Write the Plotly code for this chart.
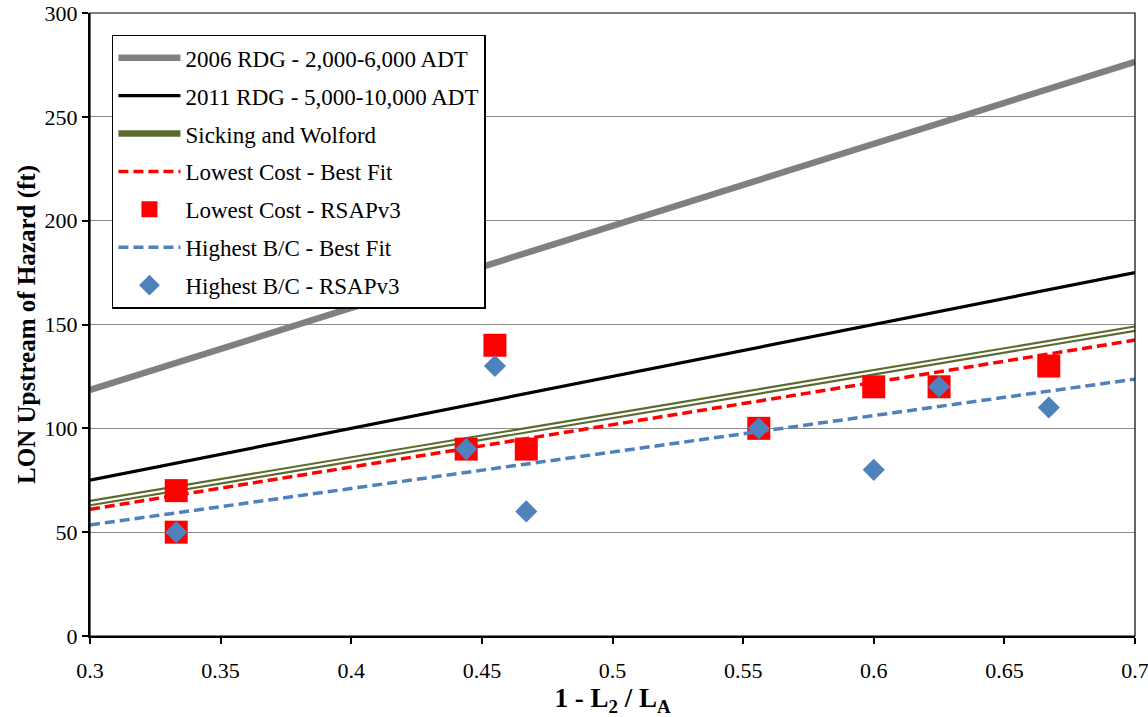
import plotly.graph_objects as go

# ---- data ----
x_line = [0.3, 0.7]
rdg2006_y = [118.5, 276.5]
rdg2011_y = [75, 175]
sicking_y = [64, 148]
lowcost_fit_y = [61, 142.5]
highbc_fit_y = [53.5, 123.7]

lowcost_x = [0.333, 0.333, 0.444, 0.455, 0.467, 0.556, 0.6, 0.625, 0.667]
lowcost_y = [70, 50, 90, 140, 90, 100, 120, 120, 130]

highbc_x = [0.333, 0.444, 0.455, 0.467, 0.556, 0.6, 0.625, 0.667]
highbc_y = [50, 90, 130, 60, 100, 80, 120, 110]

x_ticks = [0.3, 0.35, 0.4, 0.45, 0.5, 0.55, 0.6, 0.65, 0.7]
x_ticklabels = ["0.3", "0.35", "0.4", "0.45", "0.5", "0.55", "0.6", "0.65", "0.7"]
y_ticks = [0, 50, 100, 150, 200, 250, 300]

FONT = "Liberation Serif"

fig = go.Figure()

fig.add_trace(go.Scatter(x=x_line, y=rdg2006_y, mode="lines",
                         line=dict(color="#808080", width=6.5),
                         name="2006 RDG - 2,000-6,000 ADT", legendgroup="a"))
fig.add_trace(go.Scatter(x=x_line, y=rdg2011_y, mode="lines",
                         line=dict(color="#000000", width=3.2),
                         name="2011 RDG - 5,000-10,000 ADT", legendgroup="b"))
fig.add_trace(go.Scatter(x=x_line, y=sicking_y, mode="lines",
                         line=dict(color="#5A6B2E", width=6.5),
                         name="Sicking and Wolford", legendgroup="c"))
fig.add_trace(go.Scatter(x=x_line, y=sicking_y, mode="lines",
                         line=dict(color="#FFFFFF", width=2.2),
                         showlegend=False, hoverinfo="skip", legendgroup="c"))
fig.add_trace(go.Scatter(x=x_line, y=lowcost_fit_y, mode="lines",
                         line=dict(color="#FF0000", width=3.5, dash="10px,5px"),
                         name="Lowest Cost - Best Fit", legendgroup="d"))
fig.add_trace(go.Scatter(x=lowcost_x, y=lowcost_y, mode="markers",
                         marker=dict(symbol="square", size=23, color="#FF0000"),
                         name="Lowest Cost - RSAPv3", legendgroup="e"))
fig.add_trace(go.Scatter(x=x_line, y=highbc_fit_y, mode="lines",
                         line=dict(color="#4F81BD", width=3.5, dash="10px,5px"),
                         name="Highest B/C - Best Fit", legendgroup="f"))
fig.add_trace(go.Scatter(x=highbc_x, y=highbc_y, mode="markers",
                         marker=dict(symbol="diamond", size=17, color="#4F81BD"),
                         name="Highest B/C - RSAPv3", legendgroup="g"))

fig.update_layout(
    width=1148, height=717, autosize=False,
    margin=dict(l=90, r=13, t=13, b=81, autoexpand=False),
    paper_bgcolor="white", plot_bgcolor="white",
    font=dict(family=FONT, size=22, color="black"),
    showlegend=True,
    legend=dict(x=0.021, y=0.965, xanchor="left", yanchor="top",
                bgcolor="white", bordercolor="black", borderwidth=1.5,
                font=dict(family=FONT, size=23, color="black"),
                tracegroupgap=5, itemwidth=62, traceorder="grouped"),
    xaxis=dict(range=[0.3, 0.7], tickvals=x_ticks, ticktext=x_ticklabels,
               showgrid=False, zeroline=False, automargin=False,
               showline=True, linecolor="black", linewidth=2,
               ticks="outside", ticklen=6, tickcolor="black", tickwidth=1.5,
               ticklabeloverflow="allow", ticklabelstandoff=8,
               tickfont=dict(family=FONT, size=22),
               title=dict(text="<b>1 - L<sub>2</sub> / L<sub>A</sub></b>",
                          font=dict(family=FONT, size=27), standoff=4)),
    yaxis=dict(range=[0, 300], tickvals=y_ticks,
               showgrid=True, gridcolor="#8C8C8C", gridwidth=1.3,
               zeroline=False, automargin=False,
               showline=True, linecolor="black", linewidth=2,
               ticks="outside", ticklen=6, tickcolor="black", tickwidth=1.5,
               ticksuffix="\u00a0\u00a0",
               tickfont=dict(family=FONT, size=22),
               title=dict(text="<b>LON Upstream of Hazard (ft)</b>",
                          font=dict(family=FONT, size=25), standoff=2)),
    shapes=[dict(type="rect", xref="paper", yref="paper", x0=0, x1=1, y0=0, y1=1,
                 line=dict(color="black", width=1.2), layer="above")],
)

fig.write_html("out.html", config={"displayModeBar": False},
               post_script="document.body.style.margin='0';document.body.style.overflow='hidden';")
